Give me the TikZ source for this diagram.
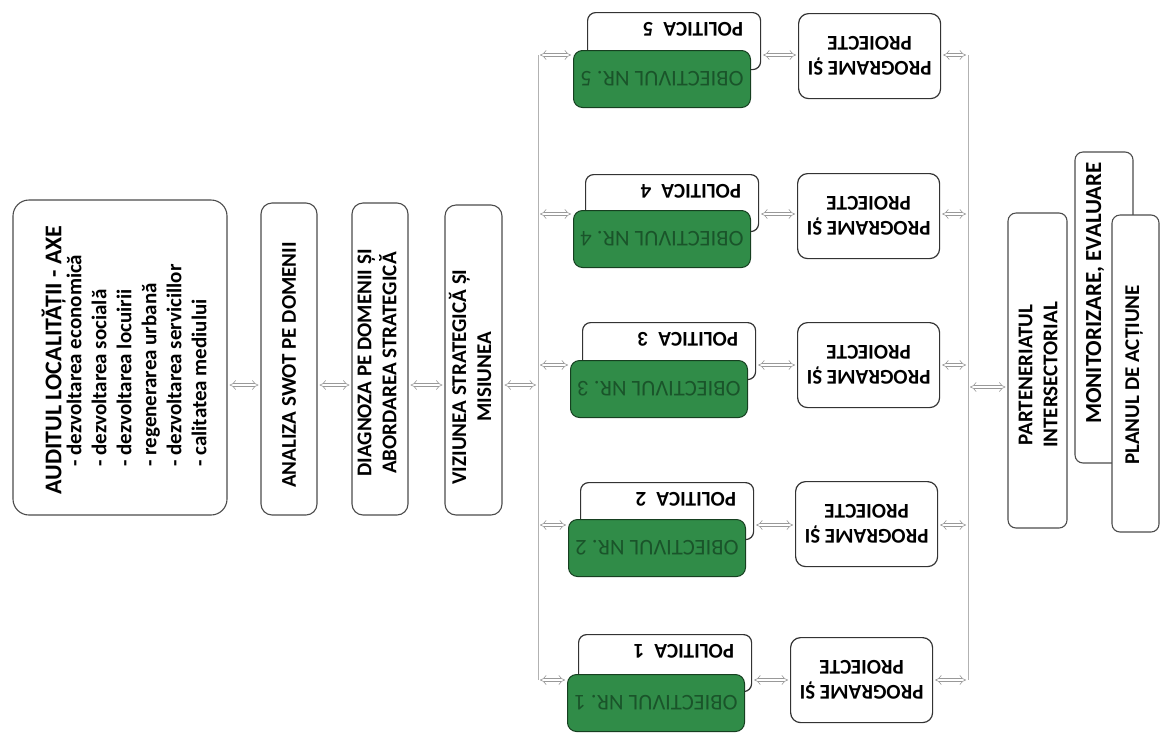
\documentclass[tikz,border=0pt]{standalone}
\usepackage{fontspec}
\setmainfont{Carlito}
\usetikzlibrary{arrows.meta,fit}
\definecolor{objgreen}{RGB}{48,140,72}
\definecolor{objtext}{RGB}{26,84,42}
\begin{document}
\begin{tikzpicture}[x=1pt,y=-1pt,
  box/.style={draw=black!70, line width=1.1pt, rounded corners=11pt, inner sep=0pt, fill=white},
  polbox/.style={draw=black!80, line width=1.2pt, rounded corners=8pt, inner sep=0pt, fill=white, minimum width=173pt, minimum height=57pt, anchor=north west},
  greenbox/.style={draw=objgreen!45!black, line width=1pt, rounded corners=9pt, inner sep=0pt, fill=objgreen, minimum width=177pt, minimum height=57pt, anchor=north west},
  progbox/.style={draw=black!80, line width=1.2pt, rounded corners=10pt, inner sep=0pt, fill=white, minimum width=142pt, minimum height=85pt, anchor=north west},
  lbl/.style={font=\bfseries\fontsize{21}{25}\selectfont, align=center, inner sep=0pt},
  objtxt/.style={font=\fontsize{22.5}{26}\selectfont, text=objtext, inner sep=0pt},
  arr/.style={draw=black!40, line width=0.6pt, double=white, double distance=2.8pt, {Implies}-{Implies}, shorten <=2pt, shorten >=2pt},
  bus/.style={draw=black!30, line width=0.8pt}]
\useasboundingbox (0,0) rectangle (1161,740);

% left chain
\node[box, rounded corners=16pt, fit={(13,200) (227,515)}] (audit) {};
\node[lbl, rotate=90, align=left] (audittxt) at (124,360)
  {{\fontsize{24}{28}\selectfont AUDITUL LOCALITĂȚII - AXE}\\[-5pt]
   \hspace*{28pt}- dezvoltarea economică\\
   \hspace*{28pt}- dezvoltarea socială\\
   \hspace*{28pt}- dezvoltarea locuirii\\
   \hspace*{28pt}- regenerarea urbană\\
   \hspace*{28pt}- dezvoltarea servicillor\\
   \hspace*{28pt}- calitatea mediului};

\node[box, fit={(261,203) (317,515)}] (swot) {};
\node[lbl, rotate=90] (swottxt) at (289,365) {ANALIZA SWOT PE DOMENII};
\node[box, fit={(352,203) (408,515)}] (diag) {};
\node[lbl, rotate=90] (diagtxt) at (377,363) {DIAGNOZA PE DOMENII ȘI\\ABORDAREA STRATEGICĂ};
\node[box, fit={(445,205) (502,515)}] (viz) {};
\node[lbl, rotate=90] (viztxt) at (470,377) {VIZIUNEA STRATEGICĂ ȘI\\MISIUNEA};

\coordinate (ay) at (0,385);
\coordinate (bLmid) at (538,385);
\draw[arr] (audit.east |- ay) -- (swot.west |- ay);
\draw[arr] (swot.east |- ay) -- (diag.west |- ay);
\draw[arr] (diag.east |- ay) -- (viz.west |- ay);
\draw[arr] (viz.east |- ay) -- (bLmid);

% rows
\foreach \i/\ay/\px/\py/\gx/\gy/\rx/\ry in {
  5/55/587/12/573/50/798/13,
  4/214/585/174/573/210/797/173,
  3/365/582/322/570/360/797/322,
  2/525/580/482/568/519/795/481,
  1/680/578/634/567/674/790/637}{
  \node[polbox] (pol\i) at (\px,\py) {};
  \node[lbl, rotate=180, anchor=west] (poltxt\i) at ([shift={(-18,17)}]pol\i.north east) {POLITICA\hspace{10pt}\i};
  \node[greenbox] (obj\i) at (\gx,\gy) {};
  \node[objtxt, rotate=180] (objtxt\i) at (obj\i) {OBIECTIVUL NR. \i};
  \node[progbox] (prog\i) at (\rx,\ry) {};
  \node[lbl, rotate=180] (progtxt\i) at (prog\i) {PROGRAME ȘI\\PROIECTE};
  \coordinate (a\i) at (0,\ay);
  \coordinate (bl\i) at (538,\ay);
  \coordinate (br\i) at (968,\ay);
  \draw[arr] (bl\i) -- (bl\i -| obj\i.west);
  \draw[arr] (pol\i.east |- a\i) -- (prog\i.west |- a\i);
  \draw[arr] (prog\i.east |- a\i) -- (br\i);
}
\draw[bus] (bl5) -- (bl1);
\draw[bus] (br5) -- (br1);

% right side
\node[box, rounded corners=8pt, fit={(1008,213) (1067,528)}] (part) {};
\node[lbl, rotate=90] (parttxt) at (1038,375) {PARTENERIATUL\\INTERSECTORIAL};
\node[box, rounded corners=8pt, fit={(1075,152) (1133,463)}] (mon) {};
\node[lbl, rotate=90, font=\bfseries\fontsize{23}{27}\selectfont] (montxt) at (1095,293) {MONITORIZARE, EVALUARE};
\node[box, rounded corners=8pt, fit={(1112,215) (1159,532)}] (plan) {};
\node[lbl, rotate=90] (plantxt) at (1134,375) {PLANUL DE ACȚIUNE};

\coordinate (bRmid) at (968,387);
\draw[arr] (bRmid) -- (part.west |- bRmid);
\end{tikzpicture}
\end{document}
